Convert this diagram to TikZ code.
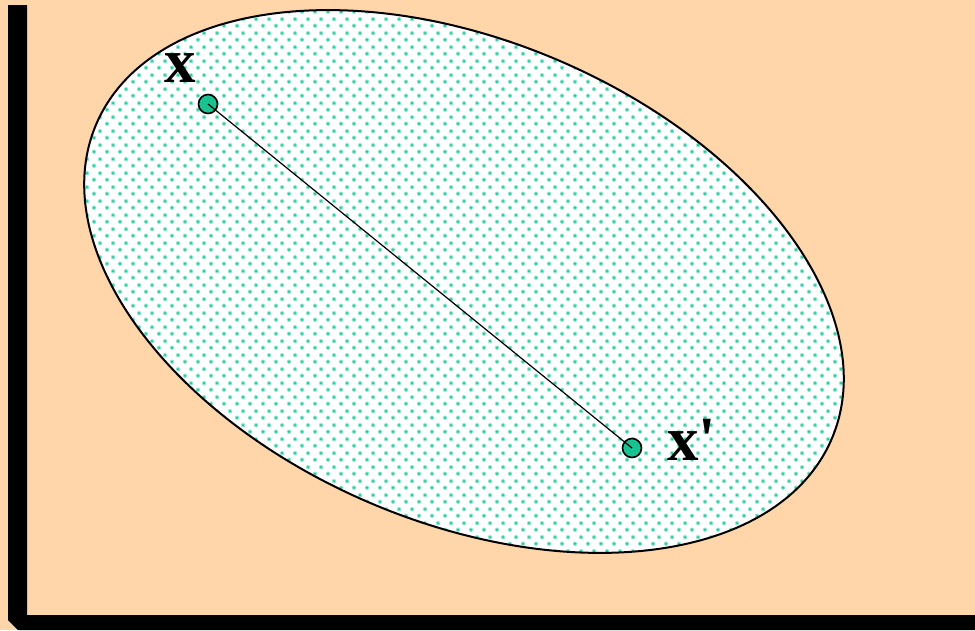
\documentclass[tikz,border=0pt]{standalone}
\usepackage{fontspec}
\newfontfamily\lblfont{Liberation Serif}
\usetikzlibrary{patterns}
\definecolor{peach}{RGB}{255,214,170}
\definecolor{dotcore}{RGB}{30,205,160}
\definecolor{dothalo}{RGB}{150,232,210}
\definecolor{ptfill}{RGB}{25,195,145}
\pgfdeclarepatterninherentlycolored{tealdots}{\pgfpointorigin}{\pgfqpoint{13pt}{14pt}}{\pgfqpoint{13pt}{14pt}}{%
  \pgfsetfillcolor{dothalo}%
  \pgfpathcircle{\pgfqpoint{3.25pt}{3.5pt}}{2.4pt}%
  \pgfpathcircle{\pgfqpoint{9.75pt}{10.5pt}}{2.4pt}%
  \pgfusepath{fill}%
  \pgfsetfillcolor{dotcore}%
  \pgfpathcircle{\pgfqpoint{3.25pt}{3.5pt}}{1.4pt}%
  \pgfpathcircle{\pgfqpoint{9.75pt}{10.5pt}}{1.4pt}%
  \pgfusepath{fill}%
}
\tikzset{
  ptdot/.style={circle, draw=black, line width=1.6pt, fill=ptfill, minimum size=19pt, inner sep=0pt},
  lbl/.style={font=\lblfont\bfseries\fontsize{63}{63}\selectfont, inner sep=0pt, anchor=base west},
  region/.style={rotate around={-23.17:(c)}},
}
\begin{document}
\begin{tikzpicture}[x=1pt,y=-1pt]
\useasboundingbox (0,0) rectangle (975,630);
\fill[peach] (0,0) rectangle (975,630);
\fill[black] (8,5) -- (27,5) -- (27,615) -- (975,615) -- (975,630) -- (18,630) -- (8,620) -- cycle;
\coordinate (c) at (464,281.5);
\fill[white, region] (c) ellipse [x radius=400pt, y radius=240.5pt];
\fill[pattern=tealdots, region] (c) ellipse [x radius=400pt, y radius=240.5pt];
\draw[line width=2pt, region] (c) ellipse [x radius=400pt, y radius=240.5pt];
\node[ptdot] (xa) at (208,104) {};
\node[ptdot] (xb) at (632,448) {};
\draw[line width=1.2pt] (xa.center) -- (xb.center);
\node[lbl] (lx) at (164,82) {x};
\node[lbl] (lxp) at (667,460) {x'};
\end{tikzpicture}
\end{document}
